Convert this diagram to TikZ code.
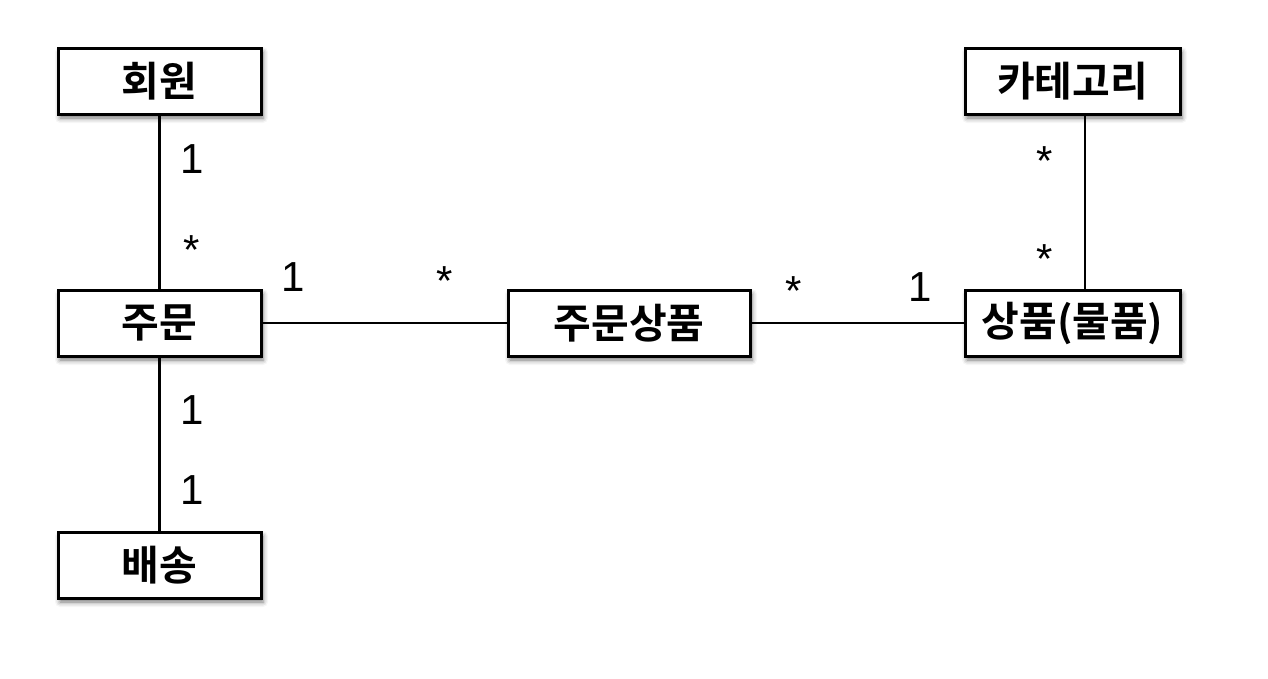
\documentclass[tikz,border=0pt]{standalone}
\usepackage{fontspec}
\setmainfont{Liberation Sans}
\newfontfamily\lat{Liberation Sans}
\newfontfamily\kr{Noto Sans CJK KR Bold}
\usetikzlibrary{shadows.blur}
\begin{document}
\begin{tikzpicture}[x=1pt,y=-1pt,
  ent/.style={draw=black,line width=3pt,fill=white,minimum width=203pt,minimum height=66pt,inner sep=0pt,
    font=\kr\fontsize{41}{43}\selectfont,
    blur shadow={shadow xshift=2pt,shadow yshift=-4pt,shadow blur radius=5pt,shadow opacity=55}},
  conn/.style={line width=2.5pt},
  mult/.style={font=\lat\fontsize{42}{44}\selectfont,inner sep=0pt}]
\useasboundingbox (0,0) rectangle (1268,678);
\node[ent] (member) at (159.5,81) {회원};
\node[ent] (order) at (159.5,323) {주문};
\node[ent] (delivery) at (159.5,565) {배송};
\node[ent,minimum width=242pt] (orderitem) at (629,323) {주문상품};
\node[ent,minimum width=215pt] (item) at (1072.5,323) {상품(물품)};
\node[ent,minimum width=215pt] (category) at (1072.5,81) {카테고리};
\coordinate (catx) at (1085,0);
\draw[conn] (member.south) -- (order.north);
\draw[conn] (order.south) -- (delivery.north);
\draw[conn] (order.east) -- (orderitem.west);
\draw[conn] (orderitem.east) -- (item.west);
\draw[conn] (catx |- category.south) -- (catx |- item.north);
\node[mult] (m1) at (192,159) {1};
\node[mult] (m2) at (192,250) {*};
\node[mult] (m3) at (293,277) {1};
\node[mult] (m4) at (445,281) {*};
\node[mult] (m5) at (794,291) {*};
\node[mult] (m6) at (920,287) {1};
\node[mult] (m7) at (1045,161) {*};
\node[mult] (m8) at (1045,259) {*};
\node[mult] (m9) at (192,410) {1};
\node[mult] (m10) at (192,490) {1};
\end{tikzpicture}
\end{document}
